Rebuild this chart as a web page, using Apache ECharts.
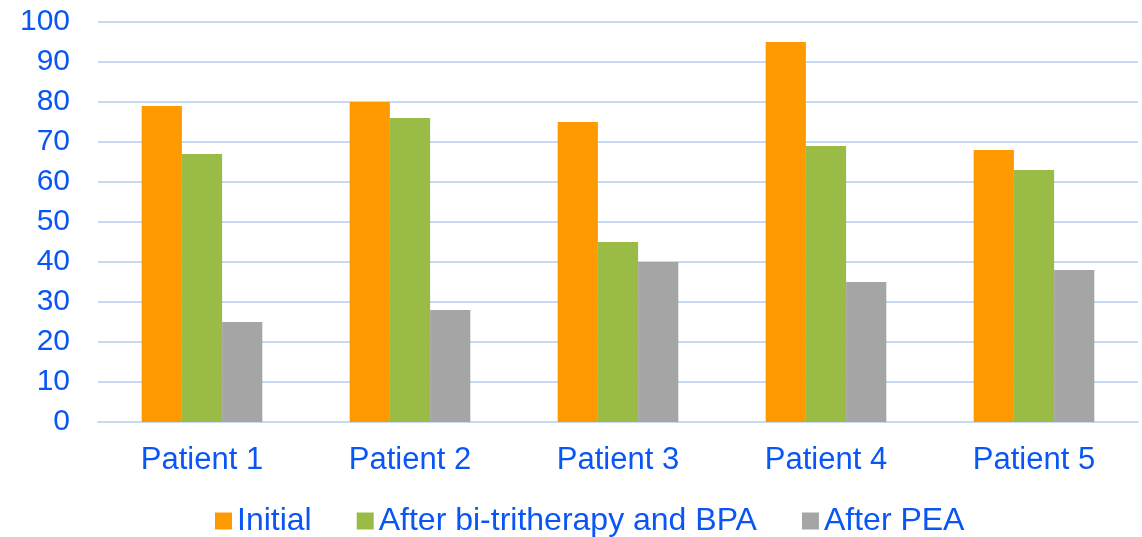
<!DOCTYPE html>
<html>
<head>
<meta charset="utf-8">
<script src="https://cdn.jsdelivr.net/npm/echarts@6/dist/echarts.min.js"></script>
<style>
  html, body { margin: 0; padding: 0; background: #fff; }
  #chart { width: 1142px; height: 537px; }
</style>
</head>
<body>
<div id="chart"></div>
<script>
// data
var patients = ['Patient 1', 'Patient 2', 'Patient 3', 'Patient 4', 'Patient 5']
var initialValues = [79, 80, 75, 95, 68]
var afterBiValues = [67, 76, 45, 69, 63]
var afterPeaValues = [25, 28, 40, 35, 38]
var seriesNames = ['Initial', 'After bi-tritherapy and BPA', 'After PEA']

var textBlue = '#0a56f5'
var gridBlue = '#c6d9f7'
var fontFam = 'Arial, "Liberation Sans", sans-serif'

var chart = echarts.init(document.getElementById('chart'))
var option = {
  animation: false,
  textStyle: { fontFamily: fontFam },
  grid: { left: 98, right: 4, top: 22, bottom: 115 },
  legend: {
    left: 210,
    top: 500,
    itemWidth: 17,
    itemHeight: 17,
    itemGap: 45,
    icon: 'rect',
    textStyle: { color: textBlue, fontSize: 32, fontFamily: fontFam },
    data: seriesNames
  },
  xAxis: {
    type: 'category',
    data: patients,
    axisLine: { lineStyle: { color: gridBlue, width: 2 } },
    axisTick: { show: false },
    axisLabel: { color: textBlue, fontSize: 31, margin: 23 }
  },
  yAxis: {
    type: 'value',
    min: 0,
    max: 100,
    interval: 10,
    axisLine: { show: false },
    axisTick: { show: false },
    splitLine: { lineStyle: { color: gridBlue, width: 2 } },
    axisLabel: { color: textBlue, fontSize: 30, margin: 28 }
  },
  series: [
    { name: seriesNames[0], type: 'bar', data: initialValues, barGap: '0%', barCategoryGap: '42%', itemStyle: { color: '#ff9900' } },
    { name: seriesNames[1], type: 'bar', data: afterBiValues, barGap: '0%', barCategoryGap: '42%', itemStyle: { color: '#9bbb47' } },
    { name: seriesNames[2], type: 'bar', data: afterPeaValues, barGap: '0%', barCategoryGap: '42%', itemStyle: { color: '#a5a5a5' } }
  ]
}
chart.setOption(option)
</script>
</body>
</html>
